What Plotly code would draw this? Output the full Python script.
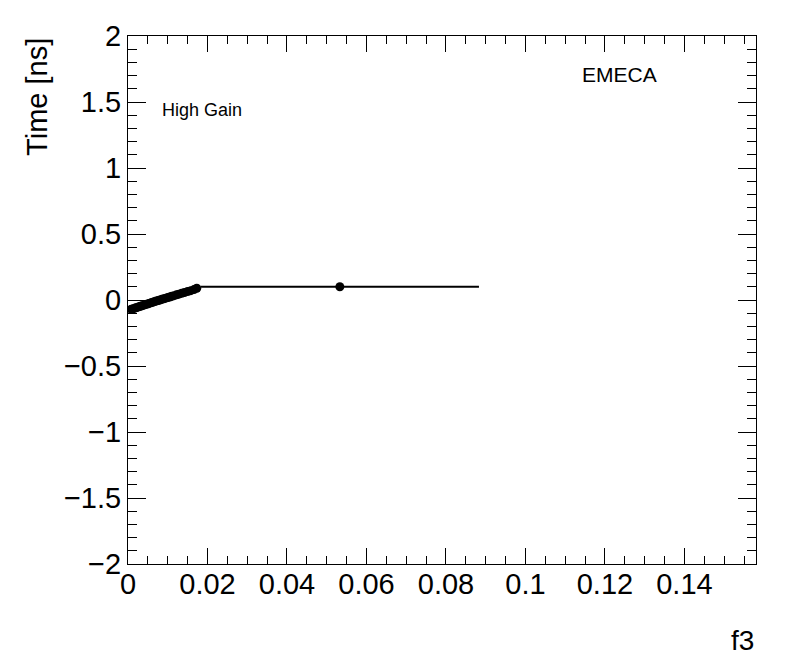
import plotly.graph_objects as go

# Data
f3_values = [0.0008, 0.0013, 0.0018, 0.0022, 0.0027, 0.0031, 0.0035, 0.0040,
             0.0044, 0.0049, 0.0053, 0.0058, 0.0062, 0.0067, 0.0071, 0.0076,
             0.0080, 0.0085, 0.0090, 0.0095, 0.0100, 0.0105, 0.0110, 0.0116,
             0.0122, 0.0128, 0.0135, 0.0142, 0.0150, 0.0158, 0.0166, 0.0173,
             0.0533]
time_values = [-0.070, -0.066, -0.061, -0.057, -0.052, -0.048, -0.044, -0.039,
               -0.035, -0.030, -0.026, -0.021, -0.017, -0.012, -0.008, -0.004,
               0.000, 0.005, 0.009, 0.014, 0.018, 0.023, 0.028, 0.033,
               0.039, 0.044, 0.051, 0.057, 0.064, 0.071, 0.079, 0.089,
               0.100]
f3_errors = [0.0003] * 32 + [0.0350]

x_label = "f3"
y_label = "Time [ns]"
text_gain = "High Gain"
text_region = "EMECA"

FONT = "Liberation Sans, Arial, Helvetica, sans-serif"

fig = go.Figure()
fig.add_trace(go.Scatter(
    x=f3_values, y=time_values, mode="markers",
    marker=dict(color="black", size=9, symbol="circle"),
    error_x=dict(type="data", array=f3_errors, visible=True,
                 color="black", thickness=2, width=0),
    showlegend=False,
))

axis_common = dict(
    showline=True, linecolor="black", linewidth=1, mirror="allticks",
    ticks="inside", tickcolor="black", tickwidth=1,
    showgrid=False, zeroline=False,
    tickfont=dict(family=FONT, size=29, color="black"),
)

fig.update_xaxes(range=[0, 0.158], dtick=0.02, tick0=0, ticklen=16,
                 ticklabelstandoff=-6,
                 minor=dict(dtick=0.005, ticklen=8, ticks="inside",
                            tickcolor="black", showgrid=False),
                 **axis_common)
fig.update_yaxes(range=[-2, 2], dtick=0.5, tick0=0, ticklen=18,
                 minor=dict(dtick=0.1, ticklen=9, ticks="inside",
                            tickcolor="black", showgrid=False),
                 **axis_common)

# The page body has an 8px margin, so the figure is sized/placed to compensate
fig.update_layout(
    width=788, height=664,
    margin=dict(l=120, r=40, t=26, b=108),
    paper_bgcolor="white", plot_bgcolor="white",
    font=dict(family=FONT, color="black"),
    annotations=[
        dict(text=y_label, xref="paper", yref="paper", x=-0.145, y=1.0,
             xanchor="center", yanchor="top", textangle=-90, showarrow=False,
             font=dict(family=FONT, size=29, color="black")),
        dict(text=x_label, xref="paper", yref="paper", x=1.0, y=-0.1453,
             xanchor="right", yanchor="middle", showarrow=False,
             font=dict(family=FONT, size=28, color="black")),
        dict(text=text_region, xref="paper", yref="paper", x=0.7834, y=0.928,
             xanchor="center", yanchor="middle", showarrow=False,
             font=dict(family=FONT, size=21, color="black")),
        dict(text=text_gain, xref="paper", yref="paper", x=0.051, y=0.860,
             xanchor="left", yanchor="middle", showarrow=False,
             font=dict(family=FONT, size=18, color="black")),
    ],
)

fig.write_html("out.html")
